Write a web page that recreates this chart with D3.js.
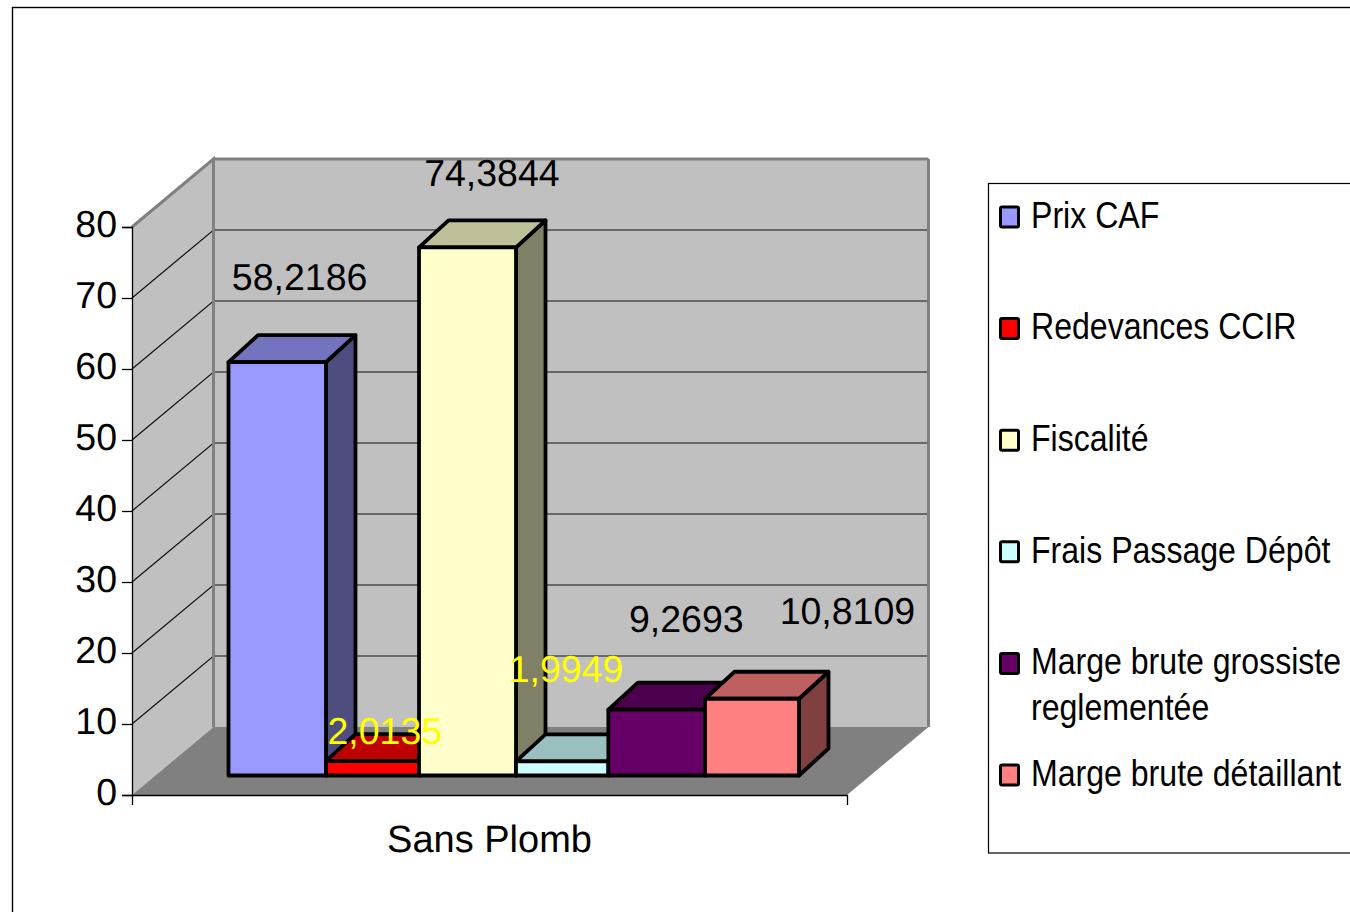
<!DOCTYPE html>
<html><head><meta charset="utf-8">
<script src="https://cdn.jsdelivr.net/npm/d3@7/dist/d3.min.js"></script>
<style>html,body{margin:0;padding:0;background:#fff;overflow:hidden}svg{display:block}
text{font-family:"Liberation Sans",Arial,sans-serif;fill:#000}</style></head>
<body><svg id="c" width="1350" height="912"></svg>
<script>
const categories = ["Sans Plomb"];
const seriesNames = ["Prix CAF","Redevances CCIR","Fiscalité","Frais Passage Dépôt","Marge brute grossiste reglementée","Marge brute détaillant"];
const seriesValues = [58.2186,2.0135,74.3844,1.9949,9.2693,10.8109];
const valueLabels = ["58,2186","2,0135","74,3844","1,9949","9,2693","10,8109"];
const seriesColors = ["#9999ff","#ff0000","#ffffcc","#ccffff","#660066","#ff8080"];
const labelColors = ["#000","#ffff00","#000","#ffff00","#000","#000"];
const yTicks = [0,10,20,30,40,50,60,70,80];
const legendLines = [["Prix CAF"],["Redevances CCIR"],["Fiscalité"],["Frais Passage Dépôt"],["Marge brute grossiste","reglementée"],["Marge brute détaillant"]];
// hand-placed label offsets of the original, relative to the bar's front-top centre
const labelShiftX = [24,14,26,5,30,96];
const labelShiftY = [-85.5,-30.5,-74.5,-92,-90.5,-88];
// the original's bar edges snap unevenly to its pixel grid
const edgeNudge = [0.5,2.8,0.7,2.5,-0.3,1.2,0];

const FS = 37.5;
const svg = d3.select("#c");
const y = d3.scaleLinear().domain([0,80]).range([795,227]);
const xCat = d3.scaleBand().domain(categories).range([132,847]);
const xBar = d3.scaleBand().domain(seriesNames).range([228,799]);
const wallD = {x:81.5,y:-68};
const barFront = {y:-19.5};
const barD = {x:29.5,y:-27};
const poly = (pts,fill,stroke,sw)=>svg.append("path").attr("d",d3.line()(pts)+"Z").attr("fill",fill)
  .attr("stroke",stroke||"none").attr("stroke-width",sw||0).attr("stroke-linejoin","round");

// chart frame
svg.append("rect").attr("x",12.5).attr("y",7.5).attr("width",1400).attr("height",1000).attr("fill","#fff").attr("stroke","#000").attr("stroke-width",1.4);

// walls and floor
const x0=xCat.range()[0], x1=xCat.range()[1], y0=y(0), yT=y(80);
poly([[x0,y0],[x0,yT],[x0+wallD.x,yT+wallD.y],[x0+wallD.x,y0+wallD.y]],"#c0c0c0");
poly([[x0+wallD.x,yT+wallD.y],[x1+wallD.x,yT+wallD.y],[x1+wallD.x,y0+wallD.y],[x0+wallD.x,y0+wallD.y]],"#c0c0c0");
poly([[x0,y0],[x0+wallD.x,y0+wallD.y],[x1+wallD.x,y0+wallD.y],[x1,y0]],"#808080");

// gridlines
yTicks.filter(t=>t>0&&t<80).forEach(t=>{
  svg.append("path").attr("d",d3.line()([[x0,y(t)],[x0+wallD.x,y(t)+wallD.y],[x1+wallD.x,y(t)+wallD.y]]))
    .attr("fill","none").attr("stroke","#111").attr("stroke-width",1.2);
});
// wall edges
svg.append("path").attr("d",d3.line()([[x0+wallD.x,y(80)+wallD.y],[x1+wallD.x,y(80)+wallD.y]])).attr("stroke","#808080").attr("stroke-width",3).attr("fill","none");
svg.append("path").attr("d",d3.line()([[x0,yT],[x0+wallD.x,yT+wallD.y],[x0+wallD.x,y0+wallD.y]])).attr("stroke","#808080").attr("stroke-width",3).attr("fill","none");
svg.append("path").attr("d",d3.line()([[x1+wallD.x,yT+wallD.y],[x1+wallD.x,y0+wallD.y]])).attr("stroke","#808080").attr("stroke-width",3).attr("fill","none");

// bars
const shade=(c,k)=>{const r=d3.rgb(c);return d3.rgb(r.r*k,r.g*k,r.b*k).formatHex();};
seriesNames.forEach((n,i)=>{
  const L=xBar(n)+edgeNudge[i], R=xBar(n)+xBar.bandwidth()+edgeNudge[i+1], B=y(0)+barFront.y, T=y(seriesValues[i])+barFront.y, c=seriesColors[i], dx=barD.x, dy=barD.y;
  poly([[R,B],[R,T],[R+dx,T+dy],[R+dx,B+dy]],shade(c,0.5),"#000",3.8);
  poly([[L,T],[L+dx,T+dy],[R+dx,T+dy],[R,T]],shade(c,0.75),"#000",3.8);
  poly([[L,B],[L,T],[R,T],[R,B]],c,"#000",3.8);
});

// axes
const gy=svg.append("g").attr("transform",`translate(${x0},0)`).call(d3.axisLeft(y).tickValues(yTicks).tickSize(10).tickPadding(5));
gy.select(".domain").attr("stroke","#000").attr("stroke-width",1.3);
gy.selectAll("line").attr("stroke","#000").attr("stroke-width",1.3);
gy.selectAll("text").attr("font-size",FS).attr("font-family",'"Liberation Sans"').attr("dy","0.26em").attr("fill","#000").attr("text-rendering","geometricPrecision");
const gx=svg.append("g").attr("transform",`translate(0,${y0})`).call(d3.axisBottom(xCat).tickSize(0).tickSizeOuter(10).tickPadding(30));
gx.select(".domain").attr("stroke","#000").attr("stroke-width",1.3);
gx.selectAll("text").attr("font-size",FS+0.5).attr("font-family",'"Liberation Sans"').attr("fill","#000").attr("text-rendering","geometricPrecision");

// value labels
seriesNames.forEach((n,i)=>{
  svg.append("text").text(valueLabels[i]).attr("text-anchor","middle").attr("dominant-baseline","central")
   .attr("x",xBar(n)+xBar.bandwidth()/2+labelShiftX[i]).attr("y",y(seriesValues[i])+barFront.y+labelShiftY[i])
   .attr("font-size",FS).attr("text-rendering","geometricPrecision").style("fill",labelColors[i]);
});

// legend
svg.append("rect").attr("x",988.5).attr("y",183.5).attr("width",500).attr("height",669.5).attr("fill","#fff").attr("stroke","#000").attr("stroke-width",1.2);
const legY=d3.scalePoint().domain(seriesNames).range([215,773]);
seriesNames.forEach((n,i)=>{
  const cy=legY(n);
  svg.append("rect").attr("x",1000.5).attr("y",cy-8).attr("width",18).attr("height",20).attr("rx",1.5)
    .attr("fill",seriesColors[i]).attr("stroke","#000").attr("stroke-width",3);
  legendLines[i].forEach((t,j)=>{
    svg.append("text").text(t).attr("transform",`translate(1031,${cy+j*46}) scale(0.867,1)`).attr("dominant-baseline","central").attr("font-size",37);
  });
});
</script></body></html>
